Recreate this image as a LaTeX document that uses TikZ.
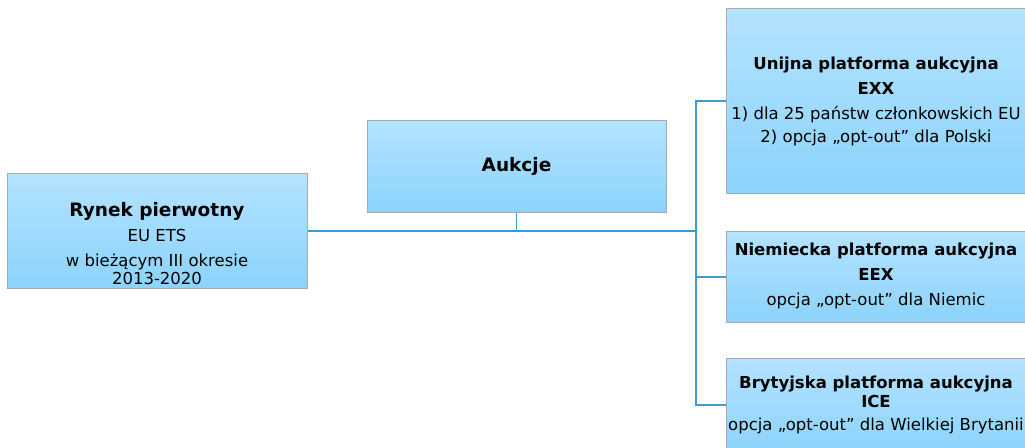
\documentclass[tikz,border=0pt]{standalone}
\usepackage{fontspec}
\setmainfont{DejaVu Sans}
\definecolor{boxtop}{HTML}{B4E3FF}
\definecolor{boxbot}{HTML}{8CD3FB}
\definecolor{boxline}{HTML}{A3ABB3}
\definecolor{wireblue}{HTML}{3C9BD0}
\newcommand{\bigtitle}[1]{{\fontsize{18.5}{25}\selectfont\bfseries #1}}
\tikzset{
    box/.style={draw=boxline, line width=1pt, top color=boxtop, bottom color=boxbot, inner sep=0pt},
    txt/.style={align=center, inner sep=0pt, font=\fontsize{16.5}{25}\selectfont},
    wire/.style={draw=wireblue, line width=2pt}
}
\begin{document}
\begin{tikzpicture}[x=1pt, y=-1pt]
    \useasboundingbox (0,0) rectangle (1025,447);
    \clip (0,0) rectangle (1025,447);
    \node[box, minimum width=300pt, minimum height=115pt] (rynek) at (157,230.5) {};
    \node[box, minimum width=299pt, minimum height=92pt] (aukcje) at (516.5,166) {};
    \node[box, minimum width=300pt, minimum height=185pt] (unijna) at (876,100.5) {};
    \node[box, minimum width=300pt, minimum height=91pt] (niemiecka) at (876,276.5) {};
    \node[box, minimum width=300pt, minimum height=94pt] (brytyjska) at (876,405) {};
    \node[txt] (ryneklbl) at (157,244)
        {\bigtitle{Rynek pierwotny}\\EU ETS\\w bieżącym III okresie\\[-7pt]2013-2020};
    \node[txt] (aukcjelbl) at (516.5,166) {\bigtitle{Aukcje}};
    \node[txt] (unijnalbl) at (876,101)
        {\textbf{Unijna platforma aukcyjna}\\\textbf{EXX}\\1) dla 25 państw członkowskich EU\\[-2pt]2) opcja „opt-out” dla Polski};
    \node[txt] (niemieckalbl) at (876,276)
        {\textbf{Niemiecka platforma aukcyjna}\\\textbf{EEX}\\opcja „opt-out” dla Niemic};
    \node[txt] (brytyjskalbl) at (876,405)
        {\textbf{Brytyjska platforma aukcyjna}\\[-6pt]\textbf{ICE}\\[-2pt]opcja „opt-out” dla Wielkiej Brytanii};
    \coordinate (spine) at (696,230.5);
    \draw[wire] (rynek.east) -- (spine);
    \draw[wire] (unijna.west) -| (spine) |- (brytyjska.west);
    \draw[wire] (niemiecka.west) -- (niemiecka.west -| spine);
    \draw[wire, line width=1pt] (aukcje.south) -- (aukcje.south |- spine);
\end{tikzpicture}
\end{document}
